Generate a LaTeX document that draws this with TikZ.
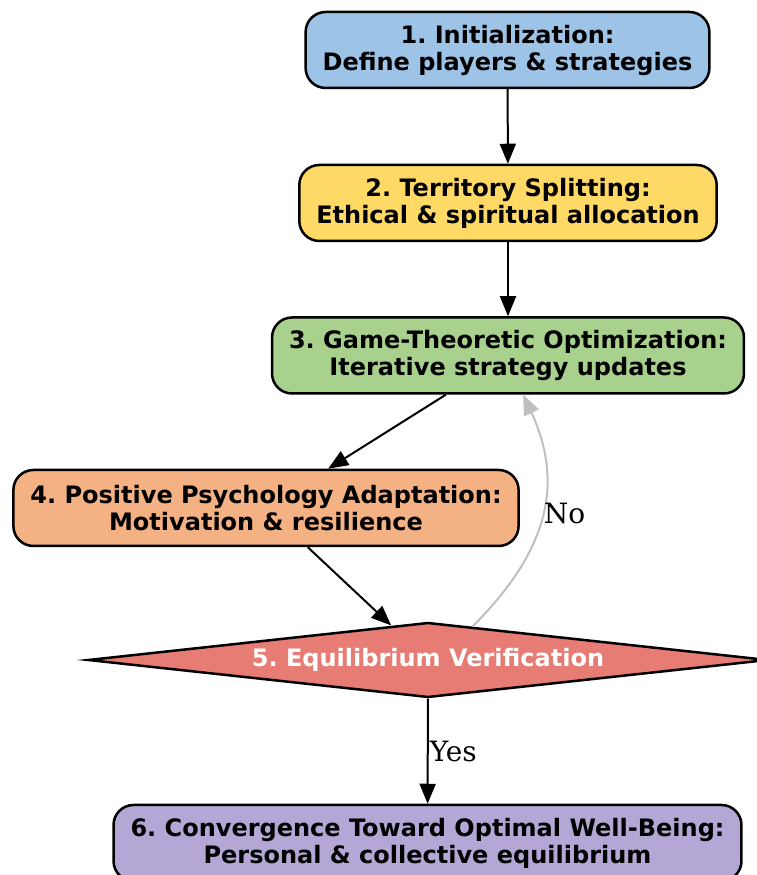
\documentclass[tikz,border=0pt]{standalone}
\usepackage{fontspec}
\usepackage{xcolor}
\usepackage{tikz}
\usetikzlibrary{shapes.geometric,arrows.meta,positioning,calc}
\newfontfamily\boxfont{DejaVu Sans}
\newfontfamily\edgefont{DejaVu Serif}
\definecolor{initblue}{HTML}{9DC3E6}
\definecolor{splityellow}{HTML}{FFD966}
\definecolor{optgreen}{HTML}{A9D18E}
\definecolor{psyorange}{HTML}{F4B183}
\definecolor{eqred}{HTML}{E67C73}
\definecolor{convpurple}{HTML}{B4A7D6}
\frenchspacing

\begin{document}
\begin{tikzpicture}[
  x=1pt, y=1pt,
  every node/.style={font=\boxfont\bfseries\fontsize{24}{27}\selectfont},
  stagebox/.style={rectangle, draw, line width=2.5pt, rounded corners=20pt, align=center, inner xsep=17pt, minimum height=76pt},
  checkbox/.style={diamond, draw, line width=2.5pt, shape aspect=9, minimum width=680pt, minimum height=75pt, inner sep=0pt, fill=eqred, text=white},
  arr/.style={-{Triangle[length=20pt, width=16pt]}, line width=2pt},
  backarr/.style={arr, black!25},
  edgelabel/.style={font=\edgefont\fontsize{28}{30}\selectfont, inner sep=1pt}
]
\useasboundingbox (0,0) rectangle (757,875);

% Stage 1 (top)
\node[stagebox, fill=initblue] (init) at (507.5,825) {1. Initialization:\\Define players \& strategies};

% Stage 2
\node[stagebox, fill=splityellow] (split) at (508,672) {2. Territory Splitting:\\Ethical \& spiritual allocation};

% Stage 3
\node[stagebox, fill=optgreen] (opt) at (508,519.5) {3. Game-Theoretic Optimization:\\Iterative strategy updates};

% Stage 4 (left)
\node[stagebox, fill=psyorange] (psy) at (266,367) {4. Positive Psychology Adaptation:\\Motivation \& resilience};

% Stage 5 (check)
\node[checkbox] (check) at (428,215) {5. Equilibrium Verification};

% Stage 6 (bottom)
\node[stagebox, fill=convpurple] (conv) at (427.5,32) {6. Convergence Toward Optimal Well-Being:\\Personal \& collective equilibrium};

% Arrows
\draw[arr] (init) -- (split);
\draw[arr] (split) -- (opt);
\draw[arr] (opt) -- (psy);
\draw[arr] (psy) -- (check);
\draw[backarr] (check.37) to[out=45, in=-65, looseness=1.1]
  node[edgelabel, text=black, pos=0.52, anchor=west] (no) {No} (opt.-69.5);
\draw[arr] (check) -- node[edgelabel, anchor=west] (yes) {Yes} (conv);

\end{tikzpicture}
\end{document}
